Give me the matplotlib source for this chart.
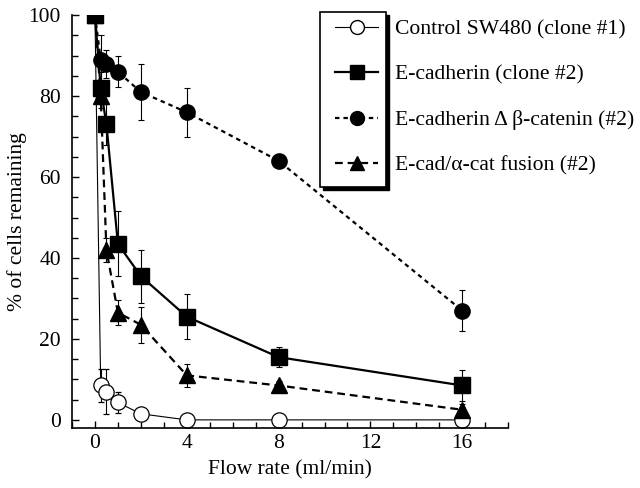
import matplotlib
matplotlib.use('Agg')
import matplotlib.pyplot as plt
from matplotlib.lines import Line2D
from matplotlib.patches import Rectangle
from matplotlib.ticker import MultipleLocator
import numpy as np

plt.rcParams['font.family'] = ['Liberation Serif', 'DejaVu Serif']

# flow rate (ml/min)
flow = [0, 0.25, 0.5, 1, 2, 4, 8, 16]

# % of cells remaining, with error bars
control = [100, 8.5, 7, 4.3, 1.5, 0, 0, 0]
control_err = [0, 4, 5.5, 2.6, 0, 1.5, 1.5, 1.5]
ecad = [100, 82, 73, 43.5, 35.5, 25.5, 15.5, 8.5]
ecad_err = [0, 4, 5, 8, 6.5, 5.5, 2.5, 3.8]
ecad_dbcat = [100, 89, 88, 86, 81, 76, 64, 27]
ecad_dbcat_err = [0, 6, 3.5, 3.8, 7, 6, 1, 5]
fusion = [100, 80, 42, 26.5, 23.5, 11, 8.5, 2.5]
fusion_err = [0, 3, 3, 3, 4.5, 2.8, 1, 1.5]

labels = ['Control SW480 (clone #1)',
          'E-cadherin (clone #2)',
          'E-cadherin \u0394 \u03b2-catenin (#2)',
          'E-cad/\u03b1-cat fusion (#2)']

fig = plt.figure(figsize=(6.4, 4.88), dpi=100)
ax = fig.add_axes([0.1125, 0.123, 0.6815, 0.846])

eb = dict(ecolor='black', elinewidth=0.8, capsize=2.5, capthick=0.8)

ax.errorbar(flow, control, yerr=control_err, color='black', lw=0.8,
            marker='o', ms=11, mfc='white', mec='black', mew=0.9, zorder=2, **eb)
ax.errorbar(flow, fusion, yerr=fusion_err, color='black', lw=1.6,
            dashes=(3.5, 2.2), marker='^', ms=11, mfc='black', mec='black', zorder=2.5, **eb)
ax.errorbar(flow, ecad_dbcat, yerr=ecad_dbcat_err, color='black', lw=1.6,
            dashes=(2, 1.8), marker='o', ms=11, mfc='black', mec='black', zorder=3, **eb)
ax.errorbar(flow, ecad, yerr=ecad_err, color='black', lw=1.6,
            marker='s', ms=11, mfc='black', mec='black', zorder=3.5, **eb)

ax.set_xlim(-1, 18)
ax.set_ylim(-2, 100)
ax.xaxis.set_major_locator(MultipleLocator(4))
ax.xaxis.set_minor_locator(MultipleLocator(1))
ax.yaxis.set_major_locator(MultipleLocator(20))
ax.yaxis.set_minor_locator(MultipleLocator(5))
ax.tick_params(which='both', direction='in', width=1, labelsize=15.5)
ax.tick_params(which='major', length=5)
ax.tick_params(which='minor', length=4)
ax.tick_params(axis='y', pad=8)
ax.tick_params(axis='x', pad=4)
ax.set_xticks([0, 4, 8, 12, 16])
ax.spines['top'].set_visible(False)
ax.spines['right'].set_visible(False)
ax.spines['left'].set_bounds(-2, 100)
for s in ('left', 'bottom'):
    ax.spines[s].set_linewidth(1.2)

ax.set_xlabel('Flow rate (ml/min)', fontsize=15.5)
ax.set_ylabel('% of cells remaining', fontsize=15.5)
ax.xaxis.set_label_coords(0.5, -0.078)
ax.yaxis.set_label_coords(-0.103, 0.5)

handles = [
    Line2D([], [], color='black', lw=0.8, marker='o', ms=10, mfc='white', mec='black'),
    Line2D([], [], color='black', lw=1.6, marker='s', ms=10, mfc='black'),
    Line2D([], [], color='black', lw=1.6, dashes=(2, 1.8), marker='o', ms=10, mfc='black'),
    Line2D([], [], color='black', lw=1.6, dashes=(3.5, 2.2), marker='^', ms=10, mfc='black'),
]
leg = ax.legend(handles, labels, loc='upper left', bbox_to_anchor=(0.51, 0.978),
                bbox_transform=fig.transFigure, frameon=False, fontsize=15.6,
                handlelength=2.0, handletextpad=0.75, labelspacing=1.16,
                borderaxespad=0)
leg.set_zorder(6)

# box around the legend handles only, with a dark drop shadow
fig.canvas.draw()
lb = leg.get_window_extent()
tb = leg.get_texts()[0].get_window_extent()
x0 = lb.x0 - 6
x1 = tb.x0 - 9
y0 = lb.y0 - 3
y1 = lb.y1 - 1
ax.add_patch(Rectangle((x0 + 3, y0 - 3), x1 - x0, y1 - y0, transform=None,
                       facecolor='black', edgecolor='black', clip_on=False, zorder=5))
ax.add_patch(Rectangle((x0, y0), x1 - x0, y1 - y0, transform=None,
                       facecolor='white', edgecolor='black', lw=1.2, clip_on=False, zorder=5.5))

fig.savefig('out.png', dpi=100)
